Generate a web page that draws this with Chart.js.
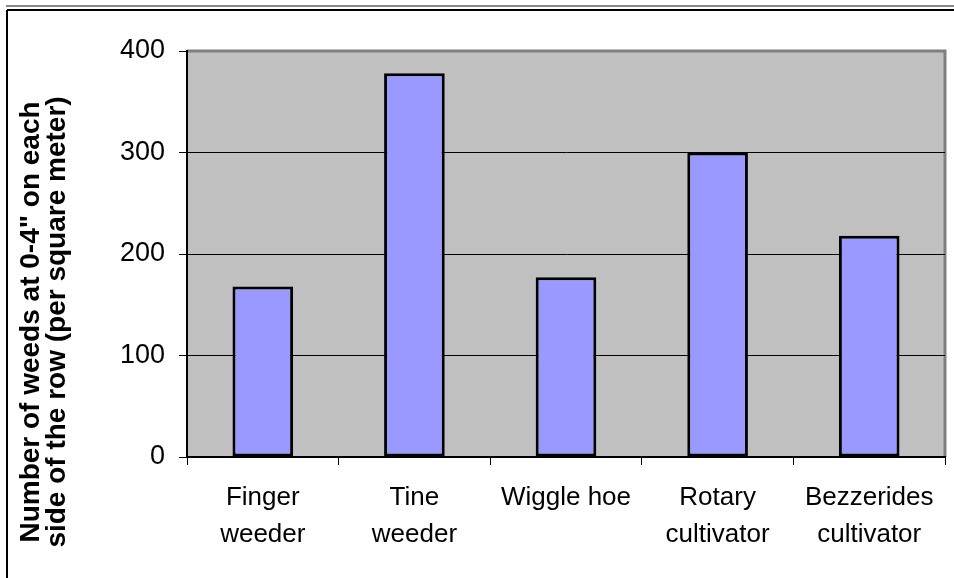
<!DOCTYPE html>
<html lang="en">
<head>
    <meta charset="UTF-8">
    <title>Weeds per square meter</title>
    <script src="https://cdn.jsdelivr.net/npm/chart.js"></script>
    <style>
        html, body { margin: 0; padding: 0; background: #fff; }
        #wrap { width: 954px; height: 578px; position: relative; }
    </style>
</head>
<body>
    <div id="wrap">
        <canvas id="weedChart" width="954" height="578"></canvas>
    </div>

    <script>
        // data
        const categories = [
            ['Finger', 'weeder'],
            ['Tine', 'weeder'],
            'Wiggle hoe',
            ['Rotary', 'cultivator'],
            ['Bezzerides', 'cultivator']
        ];
        const weedCounts = [168, 378, 177, 300, 218];
        const yTicks = [0, 100, 200, 300, 400];
        const yTitleLines = ['Number of weeds at 0-4" on each', 'side of the row (per square meter)'];

        const FONT = '"Liberation Sans", Arial, sans-serif';

        // gray plot area + outer frame + rotated axis title
        const decorations = {
            id: 'decorations',
            beforeDraw(chart) {
                const { ctx, chartArea: a } = chart;
                ctx.save();
                ctx.fillStyle = '#fff';
                ctx.fillRect(0, 0, chart.width, chart.height);
                // outer frame
                ctx.strokeStyle = '#888';
                ctx.lineWidth = 2;
                ctx.beginPath(); ctx.moveTo(6, 6); ctx.lineTo(chart.width, 6); ctx.stroke();
                ctx.strokeStyle = '#000';
                ctx.beginPath(); ctx.moveTo(7, 10); ctx.lineTo(chart.width, 10); ctx.stroke();
                ctx.beginPath(); ctx.moveTo(7, 10); ctx.lineTo(7, chart.height); ctx.stroke();
                // plot background
                ctx.fillStyle = '#c0c0c0';
                ctx.fillRect(a.left, a.top, a.right - a.left, a.bottom - a.top);
                // top and right plot border
                ctx.strokeStyle = '#808080';
                ctx.lineWidth = 3;
                ctx.beginPath();
                ctx.moveTo(a.left, a.top);
                ctx.lineTo(a.right, a.top);
                ctx.lineTo(a.right, a.bottom);
                ctx.stroke();
                ctx.restore();
            },
            afterDraw(chart) {
                const { ctx } = chart;
                ctx.save();
                ctx.translate(44, 322);
                ctx.rotate(-Math.PI / 2);
                ctx.fillStyle = '#000';
                ctx.font = 'bold 28px ' + FONT;
                ctx.textAlign = 'center';
                ctx.textBaseline = 'middle';
                ctx.fillText(yTitleLines[0], 0, -13);
                ctx.fillText(yTitleLines[1], 0, 13);
                ctx.restore();
            }
        };

        new Chart(document.getElementById('weedChart'), {
            type: 'bar',
            data: {
                labels: categories,
                datasets: [{
                    data: weedCounts,
                    backgroundColor: '#9999ff',
                    borderColor: '#000',
                    borderWidth: 3,
                    borderSkipped: false,
                    barPercentage: 0.4,
                    categoryPercentage: 1
                }]
            },
            options: {
                responsive: false,
                animation: false,
                layout: { padding: { top: 51, right: 9, left: 0, bottom: 0 } },
                plugins: {
                    legend: { display: false },
                    tooltip: { enabled: false }
                },
                scales: {
                    x: {
                        offset: true,
                        afterFit(scale) { scale.height = 121; },
                        grid: {
                            offset: true,
                            drawOnChartArea: false,
                            drawTicks: true,
                            tickLength: 8,
                            color: '#000',
                            lineWidth: 1
                        },
                        border: { color: '#000', width: 2 },
                        ticks: {
                            color: '#000',
                            padding: 14,
                            maxRotation: 0,
                            autoSkip: false,
                            font: { family: FONT, size: 26, lineHeight: 1.42 }
                        }
                    },
                    y: {
                        min: 0,
                        max: 400,
                        afterFit(scale) { scale.width = 187; },
                        afterBuildTicks(scale) { scale.ticks = yTicks.map(v => ({ value: v })); },
                        grid: {
                            color: ctx => ctx.tick && ctx.tick.value === 400 ? 'rgba(0,0,0,0)' : '#000',
                            lineWidth: 1,
                            tickLength: 8,
                            tickColor: '#000'
                        },
                        border: { color: '#000', width: 2 },
                        ticks: {
                            color: '#000',
                            padding: 14,
                            font: { family: FONT, size: 27 }
                        }
                    }
                }
            },
            plugins: [decorations]
        });
    </script>
</body>
</html>
